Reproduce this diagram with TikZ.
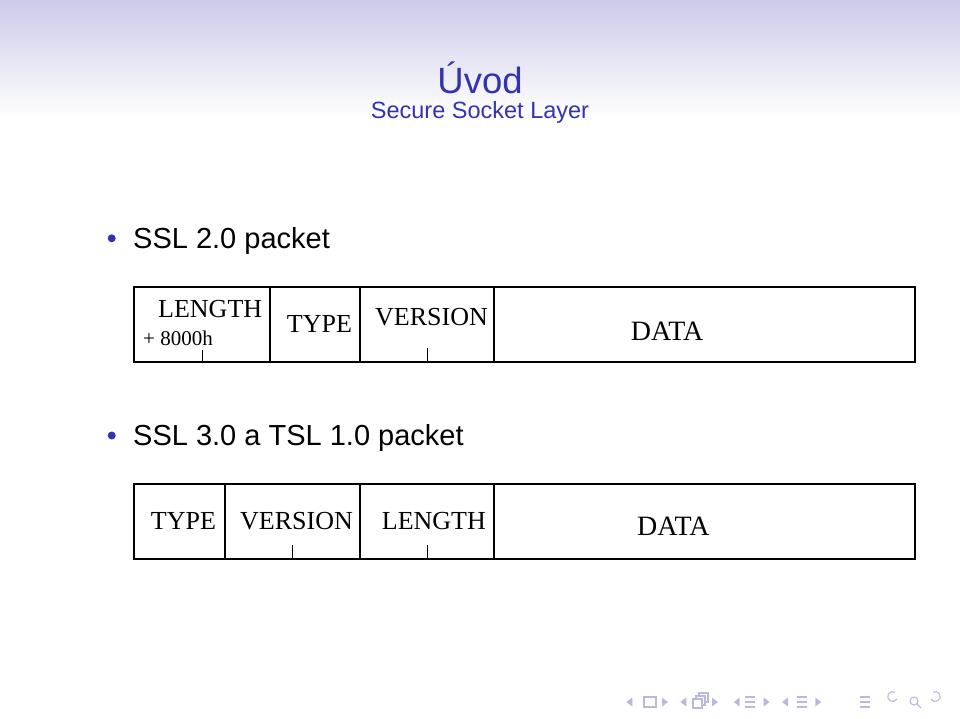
\documentclass[tikz,border=0pt]{standalone}
\usepackage{fontspec}
\setmainfont{Liberation Serif}
\setsansfont{Liberation Sans}
\usetikzlibrary{positioning}
\definecolor{slTitle}{rgb}{0.2,0.2,0.7}
\definecolor{slHead}{HTML}{CBCBEA}
\definecolor{slNav}{HTML}{B9B9DD}

\begin{document}
\begin{tikzpicture}[x=1pt,y=-1pt]
\tikzset{
  fld/.style={rectangle, draw=black, line width=1.6pt, minimum height=75pt,
              inner sep=0pt, outer sep=0pt, anchor=north west},
  lbl/.style={font=\fontsize{26}{26}\selectfont, inner sep=0pt, anchor=base west},
  big/.style={font=\fontsize{28}{28}\selectfont, inner sep=0pt, anchor=base west},
  sml/.style={font=\fontsize{21}{21}\selectfont, inner sep=0pt, anchor=base west},
  bul/.style={font=\sffamily\fontsize{29}{29}\selectfont, inner sep=0pt, anchor=base west},
  ball/.style={circle, inner sep=0pt, minimum size=8pt, fill=slTitle},
  tck/.style={draw=black, line width=1pt},
  nav/.style={draw=slNav, line width=1.1pt}
}
\useasboundingbox (0,0) rectangle (960,718);
\shade[top color=slHead, bottom color=white] (0,0) rectangle (960,118);

% Title
\node[font=\sffamily\fontsize{36.5}{36.5}\selectfont, text=slTitle, inner sep=0pt, anchor=base] (ttl) at (480,93) {Úvod};
\node[font=\sffamily\fontsize{23.5}{23.5}\selectfont, text=slTitle, inner sep=0pt, anchor=base] (sub) at (480,118) {Secure Socket Layer};

% SSL 2.0
\node[ball] (b1) at (111.7,238.3) {};
\node[bul] (i1) at (133,248) {SSL 2.0 packet};

\node[fld, minimum width=136pt] (len1) at (134,287) {};
\node[fld, minimum width=90pt, right=0pt of len1] (typ1) {};
\node[fld, minimum width=134pt, right=0pt of typ1] (ver1) {};
\node[fld, minimum width=421pt, right=0pt of ver1] (dat1) {};

\node[lbl] (lenA) at (158,317.3) {LENGTH};
\node[sml] (lenB) at (143,345.7) {+ 8000h};
\node[lbl] (typA) at (286.7,332.3) {TYPE};
\node[lbl] (verA) at (375,325) {VERSION};
\node[big] (datA) at (630.7,340) {DATA};

\draw[tck] (len1.south) -- ++(0,-12);
\draw[tck] (ver1.south) -- ++(0,-14);

% SSL 3.0 / TLS 1.0
\node[ball] (b2) at (111.7,435.5) {};
\node[bul] (i2) at (133,445) {SSL 3.0 a TSL 1.0 packet};

\node[fld, minimum width=91pt] (typ2) at (134,484) {};
\node[fld, minimum width=135pt, right=0pt of typ2] (ver2) {};
\node[fld, minimum width=134pt, right=0pt of ver2] (len2) {};
\node[fld, minimum width=421pt, right=0pt of len2] (dat2) {};

\node[lbl] (typB) at (150.7,529.7) {TYPE};
\node[lbl] (verB) at (240,529.7) {VERSION};
\node[lbl] (lenC) at (381.7,529.7) {LENGTH};
\node[big] (datB) at (637,535.7) {DATA};

\draw[tck] (ver2.south) -- ++(0,-14);
\draw[tck] (len2.south) -- ++(0,-14);

% Navigation symbols
\foreach \x in {629.3,683.3,736.7,785}
  \fill[slNav] (\x+3,697.5) -- (\x-3,702) -- (\x+3,706.5) -- cycle;
\foreach \x in {665,715,766.7,818.3}
  \fill[slNav] (\x-3,697.5) -- (\x+3,702) -- (\x-3,706.5) -- cycle;
\draw[nav] (644,697) rectangle (656,707);
\draw[nav] (693,699) rectangle (702,708);
\draw[nav] (696,699) -- (696,696) -- (705,696) -- (705,705) -- (702,705);
\draw[nav] (699,696) -- (699,693) -- (708,693) -- (708,702) -- (705,702);
\foreach \x in {750,801.7,865}
  \draw[nav] (\x-5,697) -- (\x+5,697) (\x-5,702) -- (\x+5,702) (\x-5,707) -- (\x+5,707);
\draw[nav] (897,699) arc[start angle=30, end angle=300, radius=5];
\draw[nav] (914,701) circle[radius=4] (917,704) -- (921,708);
\draw[nav] (931,699) arc[start angle=150, end angle=-120, radius=5];
\end{tikzpicture}
\end{document}
